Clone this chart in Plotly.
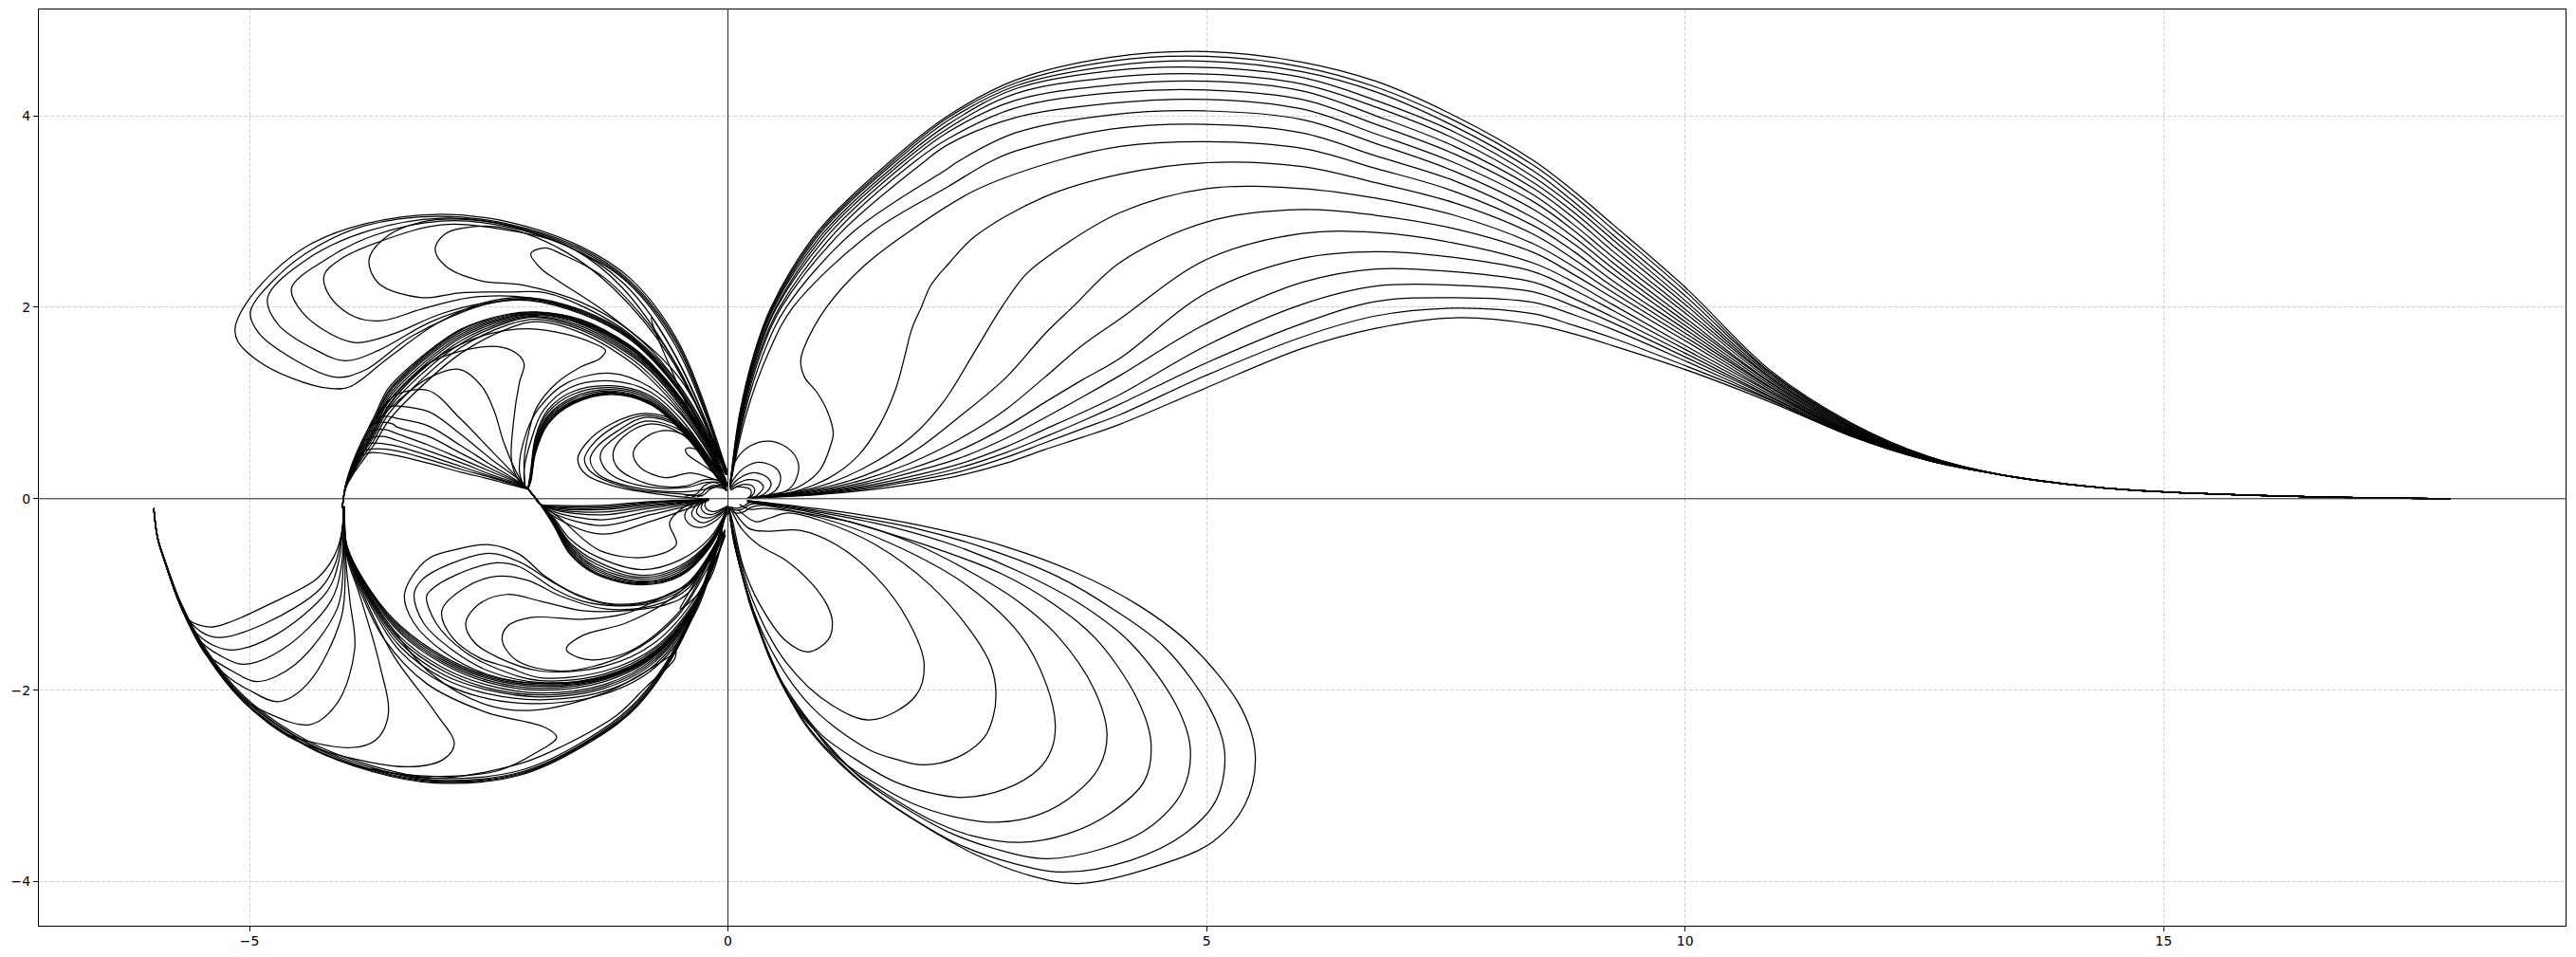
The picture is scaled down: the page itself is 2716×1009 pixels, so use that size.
import plotly.graph_objects as go

x_range = [-7.2, 19.2]
y_range = [-4.46, 5.11]
x_ticks = [-5, 0, 5, 10, 15]
y_ticks = [-4, -2, 0, 2, 4]

# ---------- upper right fan ----------
fan_low_y = [0.88, 1.54, 2.0, 2.78, 3.52]
fan_low_x = [
    [.12, .28, .45, .93, 1.69], [.125, .285, .46, .95, 1.72], [.13, .29, .47, .97, 1.75],
    [.135, .30, .48, 1.0, 1.79], [.14, .31, .50, 1.03, 1.83], [.145, .32, .51, 1.07, 1.88],
    [.15, .335, .54, 1.12, 1.95], [.16, .35, .56, 1.18, 2.05], [.17, .38, .61, 1.3, 2.4],
    [.19, .43, .68, 1.5, 2.74],
]
fan_x23 = [2.3, 2.3, 2.3, 2.3, 2.3, 2.3, 2.3, 2.3, 2.3, 2.3]
fan_y23 = [4.0, 3.98, 3.95, 3.91, 3.87, 3.83, 3.76, 3.7, 3.45, 3.26]
fan_top_x = [3, 4, 5, 6, 6.77, 7.59, 8.42, 8.84, 9.24, 10, 10.89, 11.72, 12.54]
fan_top_y = [
    [4.37, 4.61, 4.67, 4.56, 4.36, 4.0, 3.53, 3.21, 2.87, 2.21, 1.34, .8, .44],
    [4.34, 4.57, 4.62, 4.51, 4.30, 3.95, 3.48, 3.16, 2.82, 2.17, 1.32, .79, .44],
    [4.31, 4.52, 4.57, 4.46, 4.25, 3.89, 3.42, 3.10, 2.76, 2.12, 1.31, .78, .44],
    [4.28, 4.47, 4.505, 4.40, 4.16, 3.83, 3.36, 3.05, 2.71, 2.07, 1.29, .77, .43],
    [4.23, 4.4, 4.435, 4.33, 4.09, 3.76, 3.30, 2.99, 2.65, 2.03, 1.27, .76, .43],
    [4.16, 4.32, 4.36, 4.26, 4.0, 3.68, 3.24, 2.93, 2.59, 1.98, 1.26, .75, .43],
    [4.08, 4.24, 4.27, 4.17, 3.91, 3.60, 3.17, 2.86, 2.53, 1.94, 1.24, .74, .42],
    [3.98, 4.13, 4.17, 4.07, 3.81, 3.51, 3.10, 2.80, 2.47, 1.89, 1.22, .73, .42],
    [3.82, 4.01, 4.05, 3.96, 3.71, 3.42, 3.02, 2.73, 2.41, 1.85, 1.21, .72, .42],
    [3.63, 3.86, 3.91, 3.82, 3.58, 3.32, 2.93, 2.66, 2.35, 1.81, 1.19, .71, .42],
]
fan_mid_left = [
    [(.2, .01), (.43, .04), (.73, .12), (.96, .3), (1.07, .55), (1.10, .68), (1.04, .91), (.93, 1.11), (.80, 1.27), (.76, 1.44), (.80, 1.59), (1.03, 2.0), (1.42, 2.43), (1.92, 2.81), (2.58, 3.22), (3.4, 3.52)],
    [(.25, .01), (.6, .05), (1.06, .22), (1.36, .45), (1.59, .78), (1.75, 1.14), (1.85, 1.5), (1.92, 1.77), (2.02, 2.0), (2.12, 2.23), (2.31, 2.46), (2.58, 2.74), (3.3, 3.15)],
    [(.25, .01), (.43, .03), (.93, .12), (1.42, .32), (1.92, .65), (2.25, 1.01), (2.58, 1.54), (2.86, 2.0), (3.1, 2.33), (3.3, 2.5)],
    [(.25, .01), (.93, .1), (1.42, .24), (1.92, .48), (2.41, .85), (2.91, 1.27), (3.3, 1.71), (3.6, 2.0)],
    [(.25, .01), (.9, .08), (1.42, .2), (1.9, .37), (2.41, .62), (2.9, .93), (3.3, 1.26), (3.7, 1.6)],
    [(.25, .01), (.9, .07), (1.42, .17), (1.9, .31), (2.41, .5), (2.9, .75), (3.3, 1.0), (3.7, 1.24)],
    [(.25, .01), (.9, .06), (1.42, .15), (1.9, .27), (2.41, .42), (2.9, .63), (3.3, .84), (3.7, 1.06)],
    [(.25, .01), (.9, .055), (1.42, .13), (1.9, .23), (2.41, .36), (2.9, .54), (3.3, .72), (3.7, .9)],
    [(.25, .01), (.9, .05), (1.42, .115), (1.9, .2), (2.41, .32), (2.9, .48), (3.3, .64), (3.7, .81)],
    [(.25, .01), (.9, .045), (1.42, .1), (1.9, .18), (2.41, .28), (2.9, .43), (3.3, .58), (3.7, .73)],
    [(.25, .01), (.9, .04), (1.42, .085), (1.9, .15), (2.41, .24), (2.9, .37), (3.3, .51), (3.7, .64)],
]
fan_mid_x = [4.1, 5, 6, 6.77, 7.59, 8.42, 8.84, 9.24, 10, 10.89, 11.72, 12.54]
fan_mid_y = [
    [3.68, 3.73, 3.66, 3.45, 3.21, 2.85, 2.58, 2.28, 1.77, 1.17, .70, .41],
    [3.39, 3.51, 3.47, 3.30, 3.09, 2.76, 2.50, 2.22, 1.73, 1.16, .70, .41],
    [2.99, 3.24, 3.24, 3.14, 2.96, 2.66, 2.42, 2.16, 1.69, 1.14, .69, .41],
    [2.47, 2.89, 3.02, 2.96, 2.82, 2.57, 2.34, 2.10, 1.65, 1.12, .69, .41],
    [1.88, 2.5, 2.77, 2.78, 2.67, 2.46, 2.26, 2.03, 1.60, 1.11, .68, .41],
    [1.47, 2.15, 2.51, 2.58, 2.52, 2.37, 2.18, 1.97, 1.56, 1.09, .68, .40],
    [1.29, 1.83, 2.26, 2.40, 2.37, 2.26, 2.09, 1.90, 1.52, 1.07, .67, .40],
    [1.09, 1.6, 2.03, 2.22, 2.23, 2.16, 2.01, 1.84, 1.48, 1.06, .67, .40],
    [.99, 1.42, 1.83, 2.06, 2.10, 2.05, 1.92, 1.77, 1.44, 1.04, .66, .40],
    [.88, 1.29, 1.69, 1.91, 1.99, 1.93, 1.81, 1.68, 1.39, 1.03, .66, .40],
    [.78, 1.16, 1.57, 1.78, 1.89, 1.82, 1.72, 1.60, 1.35, 1.01, .66, .40],
]
fan_tail = [(13.3, .25), (14.19, .13), (15, .07), (16, .035), (17, .012), (18, 0.0)]

small_upper_right = [
    [(.02, .15), (.07, .38), (.23, .55), (.45, .6), (.66, .5), (.74, .33), (.66, .12), (.5, .04), (.3, .01)],
    [(.02, .13), (.07, .22), (.18, .33), (.33, .38), (.5, .32), (.55, .22), (.5, .09), (.37, .02)],
    [(.02, .11), (.1, .2), (.25, .27), (.4, .23), (.45, .15), (.38, .05), (.3, .015)],
    [(.02, .1), (.1, .16), (.22, .2), (.34, .17), (.37, .12), (.31, .04), (.26, .01)],
    [(.03, .09), (.1, .13), (.17, .15), (.26, .13), (.28, .085), (.25, .03), (.22, .01)],
    [(.03, .09), (.1, .125), (.16, .12), (.23, .1), (.245, .06), (.22, .015)],
]

# ---------- lower right petals ----------
petals = [
    [(.01, -.08), (.14, -.31), (.33, -.49), (.6, -.64), (.86, -.87), (1.03, -1.1), (1.09, -1.28), (1.05, -1.47), (.84, -1.6), (.6, -1.48), (.33, -1.1), (.16, -.71), (.05, -.24), (.01, -.08)],
    [(.03, -.08), (.22, -.31), (.41, -.34), (.75, -.33), (1.13, -.48), (1.54, -.81), (1.88, -1.27), (2.05, -1.73), (1.96, -2.06), (1.5, -2.31), (1.09, -2.16), (.6, -1.7), (.25, -1.04), (.08, -.44), (.01, -.1)],
    [(.1, -.11), (.29, -.24), (.44, -.2), (.63, -.15), (.97, -.23), (1.54, -.48), (2.11, -.9), (2.57, -1.43), (2.75, -1.75), (2.8, -2.03), (2.77, -2.28), (2.68, -2.49), (2.4, -2.7), (2.04, -2.78), (1.75, -2.72), (1.47, -2.62), (.86, -2.16), (.41, -1.5), (.14, -.77), (.01, -.1)],
    [(.12, -.06), (.22, -.11), (.4, -.1), (.97, -.2), (1.73, -.48), (2.49, -.9), (3.06, -1.43), (3.33, -1.95), (3.42, -2.36), (3.38, -2.62), (3.25, -2.82), (2.9, -3.03), (2.45, -3.12), (2.1, -3.07), (1.73, -2.95), (1.33, -2.72), (.97, -2.46), (.7, -2.12), (.48, -1.76), (.3, -1.3), (.16, -.84), (.06, -.45), (.01, -.1)],
    [(.2, -.03), (.4, -.07), (.85, -.16), (1.35, -.26), (1.95, -.47), (2.49, -.74), (3.0, -1.05), (3.44, -1.43), (3.83, -2.0), (3.96, -2.46), (3.88, -2.8), (3.63, -3.08), (3.25, -3.3), (2.79, -3.38), (2.35, -3.32), (1.92, -3.18), (1.5, -2.95), (1.13, -2.69), (.82, -2.3), (.56, -1.93), (.34, -1.4), (.18, -.9), (.07, -.48), (.01, -.1)],
    [(.2, -.025), (.4, -.06), (.95, -.16), (1.54, -.32), (2.2, -.53), (2.87, -.79), (3.4, -1.1), (3.85, -1.47), (4.28, -2.1), (4.42, -2.55), (4.35, -2.95), (4.0, -3.28), (3.55, -3.5), (3.06, -3.59), (2.55, -3.52), (2.11, -3.35), (1.68, -3.1), (1.28, -2.82), (.92, -2.43), (.63, -2.06), (.38, -1.5), (.2, -.97), (.08, -.52), (.01, -.1)],
    [(.2, -.02), (.4, -.05), (1.0, -.15), (1.73, -.3), (2.4, -.5), (3.06, -.77), (3.68, -1.1), (4.2, -1.5), (4.68, -2.15), (4.83, -2.6), (4.75, -3.05), (4.38, -3.45), (3.9, -3.66), (3.32, -3.76), (2.8, -3.66), (2.3, -3.48), (1.8, -3.2), (1.39, -2.92), (1.0, -2.52), (.69, -2.16), (.42, -1.6), (.22, -1.04), (.09, -.55), (.01, -.1)],
    [(.2, -.02), (.4, -.045), (1.1, -.15), (1.92, -.3), (2.7, -.52), (3.44, -.81), (4.05, -1.17), (4.57, -1.56), (5.04, -2.2), (5.19, -2.65), (5.1, -3.15), (4.76, -3.51), (4.2, -3.78), (3.51, -3.9), (2.95, -3.8), (2.41, -3.61), (1.9, -3.32), (1.47, -3.02), (1.05, -2.63), (.75, -2.26), (.45, -1.7), (.24, -1.1), (.1, -.58), (.01, -.1)],
    [(.2, -.02), (.4, -.04), (1.2, -.14), (2.11, -.3), (2.9, -.5), (3.63, -.77), (4.3, -1.12), (4.84, -1.53), (5.37, -2.2), (5.51, -2.69), (5.4, -3.2), (5.07, -3.58), (4.5, -3.83), (3.66, -4.02), (3.1, -3.92), (2.57, -3.71), (2.05, -3.42), (1.54, -3.08), (1.1, -2.7), (.78, -2.32), (.5, -1.78), (.25, -1.17), (.1, -.6), (.01, -.1)],
]
small_lower_right = [
    [(.02, -.11), (.08, -.15), (.16, -.14), (.24, -.09), (.34, -.07), (.5, -.07)],
    [(.03, -.1), (.08, -.12), (.15, -.11), (.23, -.06), (.35, -.05)],
    [(.03, -.09), (.09, -.1), (.16, -.08), (.22, -.04), (.3, -.03)],
]

# ---------- outer upper left loops ----------
outer_loops = [
    [(-.01, .28), (-.52, 1.64), (-1.02, 2.3), (-1.53, 2.63), (-2.29, 2.89), (-3.04, 2.97), (-3.8, 2.87), (-4.36, 2.66), (-4.76, 2.36), (-5.06, 2.0), (-5.15, 1.78), (-5.12, 1.64), (-4.91, 1.44), (-4.56, 1.26), (-4.15, 1.15), (-3.95, 1.17), (-3.55, 1.47), (-3.04, 1.83), (-2.54, 2.05), (-2.08, 2.1), (-1.53, 1.97), (-1.02, 1.7), (-.52, 1.17), (-.01, .25)],
    [(-.02, .28), (-.53, 1.63), (-1.03, 2.28), (-1.55, 2.62), (-2.3, 2.87), (-3.04, 2.95), (-3.8, 2.85), (-4.3, 2.63), (-4.7, 2.33), (-4.99, 1.95), (-4.91, 1.74), (-4.56, 1.47), (-4.1, 1.27), (-3.8, 1.34), (-3.3, 1.7), (-2.54, 2.03), (-2.08, 2.09), (-1.53, 1.95), (-1.02, 1.68), (-.52, 1.15), (-.01, .25)],
    [(-.02, .28), (-.54, 1.62), (-1.04, 2.27), (-1.57, 2.61), (-2.3, 2.86), (-3.0, 2.93), (-3.75, 2.8), (-4.4, 2.5), (-4.81, 2.1), (-4.7, 1.82), (-4.3, 1.55), (-4.0, 1.44), (-3.65, 1.55), (-3.1, 1.85), (-2.54, 2.03), (-2.08, 2.08), (-1.53, 1.94), (-1.02, 1.67), (-.52, 1.14), (-.01, .25)],
    [(-.02, .28), (-.55, 1.6), (-1.05, 2.26), (-1.6, 2.6), (-2.3, 2.84), (-3.0, 2.9), (-3.7, 2.75), (-4.2, 2.5), (-4.56, 2.2), (-4.45, 1.95), (-4.15, 1.72), (-3.88, 1.63), (-3.5, 1.72), (-3.0, 1.93), (-2.5, 2.05), (-2.08, 2.07), (-1.53, 1.93), (-1.02, 1.66), (-.52, 1.13), (-.01, .25)],
    [(-.02, .28), (-.58, 1.55), (-1.08, 2.24), (-1.7, 2.65), (-2.4, 2.82), (-3.0, 2.86), (-3.6, 2.7), (-4.05, 2.5), (-4.22, 2.33), (-4.15, 2.1), (-3.9, 1.9), (-3.62, 1.86), (-3.2, 1.98), (-2.7, 2.1), (-2.08, 2.1), (-1.53, 1.96), (-1.02, 1.69), (-.52, 1.15), (-.01, .25)],
    [(-.02, .3), (-.6, 1.5), (-1.1, 2.2), (-1.6, 2.6), (-2.29, 2.85), (-2.79, 2.92), (-3.2, 2.89), (-3.55, 2.75), (-3.75, 2.5), (-3.65, 2.25), (-3.2, 2.1), (-2.8, 2.15), (-2.29, 2.16), (-1.9, 2.15), (-1.5, 2.0), (-1.0, 1.7), (-.5, 1.17), (-.01, .27)],
    [(-.02, .3), (-.62, 1.5), (-1.2, 2.2), (-1.7, 2.58), (-2.29, 2.82), (-2.67, 2.84), (-2.95, 2.77), (-3.06, 2.61), (-2.95, 2.43), (-2.6, 2.28), (-2.14, 2.23), (-1.53, 2.05), (-1.02, 1.75), (-.5, 1.25), (-.01, .3)],
    [(-.03, .28), (-.6, 1.5), (-1.28, 2.3), (-1.75, 2.56), (-1.91, 2.62), (-2.06, 2.56), (-1.95, 2.4), (-1.78, 2.28), (-1.28, 1.95), (-.8, 1.55), (-.4, 1.02), (-.02, .3)],
    [(-.02, .28), (-.4, 1.2), (-.7, 1.75), (-.8, 1.89), (-.78, 1.8), (-.55, 1.25), (-.3, .7), (-.02, .25)],
]

# ---------- radius-2 band, upper ----------
band_x = [-.01, -.16, -.49, -.82, -1.02, -1.53, -2.0, -2.29, -2.79, -3.3, -3.55, -3.7, -3.85, -3.95, -4.0, -4.03]
band_y = [
    [.15, .52, 1.05, 1.43, 1.6, 1.87, 1.95, 1.93, 1.77, 1.4, 1.15, .85, .55, .3, .12, -.1],
    [.15, .51, 1.04, 1.42, 1.59, 1.86, 1.945, 1.92, 1.76, 1.38, 1.12, .82, .53, .29, .12, -.1],
    [.15, .5, 1.03, 1.41, 1.58, 1.85, 1.94, 1.91, 1.74, 1.36, 1.1, .8, .51, .28, .12, -.1],
    [.15, .49, 1.02, 1.4, 1.57, 1.84, 1.93, 1.9, 1.72, 1.34, 1.07, .77, .49, .27, .11, -.1],
    [.14, .48, 1.01, 1.39, 1.56, 1.83, 1.925, 1.89, 1.7, 1.31, 1.04, .74, .47, .26, .11, -.1],
    [.14, .47, 1.0, 1.38, 1.54, 1.82, 1.915, 1.875, 1.68, 1.28, 1.01, .71, .45, .25, .11, -.1],
    [.14, .46, .98, 1.36, 1.52, 1.8, 1.905, 1.86, 1.65, 1.25, .97, .68, .43, .24, .1, -.1],
    [.13, .45, .96, 1.34, 1.5, 1.78, 1.895, 1.845, 1.62, 1.21, .93, .65, .41, .23, .1, -.1],
    [.13, .43, .93, 1.3, 1.47, 1.76, 1.875, 1.82, 1.58, 1.15, .88, .61, .38, .22, .1, -.1],
    [.13, .41, .9, 1.26, 1.43, 1.73, 1.85, 1.78, 1.52, 1.08, .81, .56, .35, .2, .09, -.1],
]

# ---------- fan towards the pinch ----------
pinch_x = [-3.46, -3.13, -2.8, -2.47, -2.21]
pinch_y = [
    [.45, .37, .28, .2, .13], [.5, .41, .31, .22, .14], [.55, .45, .34, .23, .15],
    [.61, .5, .38, .25, .16], [.68, .56, .42, .28, .17], [.75, .65, .48, .31, .18],
    [.84, .76, .56, .35, .19], [.97, .91, .68, .41, .22], [1.09, 1.13, .84, .5, .23],
]
pinch_start = [
    [(-3.93, .32), (-3.86, .43), (-3.74, .48)], [(-3.88, .42), (-3.8, .5), (-3.7, .52)],
    [(-3.84, .52), (-3.77, .57), (-3.65, .58)], [(-3.8, .6), (-3.72, .64), (-3.6, .65)],
    [(-3.76, .7), (-3.68, .72), (-3.57, .72)], [(-3.72, .78), (-3.62, .8), (-3.5, .78)],
    [(-3.68, .85), (-3.56, .86)], [(-3.62, .95), (-3.48, .97)], [(-3.65, .9), (-3.55, 1.02)],
]
peak_curves = [
    [(-3.73, .75), (-3.46, 1.01), (-3.13, 1.26), (-2.8, 1.35), (-2.57, 1.17), (-2.44, .91), (-2.34, .58), (-2.18, .22), (-2.09, .1)],
    [(-3.75, .75), (-3.46, 1.11), (-3.13, 1.41), (-2.8, 1.54), (-2.41, 1.59), (-2.21, 1.52), (-2.13, 1.41), (-2.18, 1.21), (-2.24, .81), (-2.26, .38), (-2.18, .18), (-2.09, .1)],
    [(-3.95, .2), (-3.8, .5), (-3.65, .8), (-3.4, 1.15), (-3.0, 1.5), (-2.5, 1.72), (-2.08, 1.775), (-1.7, 1.72), (-1.4, 1.62), (-1.28, 1.55), (-1.33, 1.47), (-1.55, 1.37), (-1.8, 1.2), (-2.0, .95), (-2.08, .7), (-2.13, .4), (-2.12, .15)],
]

# ---------- radius-1 band, upper ----------
arc1_x = [-.015, -.16, -.49, -.82, -1.22, -1.62, -1.88, -2.01, -2.06, -2.09]
arc1_y = [
    [.08, .28, .71, .99, 1.09, .99, .78, .48, .18, .1],
    [.08, .29, .72, 1.0, 1.1, 1.0, .79, .5, .2, .1],
    [.08, .29, .72, 1.0, 1.105, 1.01, .81, .52, .21, .1],
    [.08, .3, .73, 1.01, 1.115, 1.02, .83, .54, .22, .1],
    [.09, .3, .74, 1.02, 1.125, 1.04, .85, .56, .23, .1],
    [.09, .31, .75, 1.04, 1.14, 1.06, .87, .59, .25, .1],
    [.09, .32, .77, 1.06, 1.16, 1.09, .9, .62, .27, .1],
    [.1, .34, .79, 1.08, 1.18, 1.12, .93, .65, .3, .1],
]
arc1_extra = [
    [(-.015, .11), (-.16, .37), (-.49, .83), (-.82, 1.12), (-1.22, 1.23), (-1.65, 1.16), (-1.93, .92), (-2.06, .6), (-2.13, .3), (-2.12, .12)],
    [(-.015, .12), (-.16, .41), (-.49, .88), (-.82, 1.17), (-1.22, 1.31), (-1.68, 1.21), (-1.98, .94), (-2.11, .68), (-2.18, .3), (-2.13, .12)],
]

# ---------- inner upper left lobes ----------
inner_lobes = [
    [(-.02, .18), (-.16, .38), (-.49, .78), (-.87, .89), (-1.22, .78), (-1.48, .58), (-1.57, .41), (-1.48, .25), (-1.15, .12), (-.66, .04), (-.26, .0)],
    [(-.02, .18), (-.16, .37), (-.49, .76), (-.87, .87), (-1.19, .75), (-1.43, .55), (-1.5, .41), (-1.42, .27), (-.99, .1), (-.49, .05), (-.26, .03)],
    [(-.02, .18), (-.16, .36), (-.49, .74), (-.87, .85), (-1.15, .71), (-1.38, .53), (-1.44, .41), (-1.35, .25), (-.99, .12), (-.49, .07), (-.28, .09), (-.16, .12), (-.03, .16)],
    [(-.02, .18), (-.16, .35), (-.49, .71), (-.87, .81), (-1.15, .66), (-1.32, .5), (-1.33, .4), (-1.22, .25), (-.82, .12), (-.42, .12), (-.23, .17), (-.03, .17)],
    [(-.02, .18), (-.16, .34), (-.49, .68), (-.82, .78), (-1.09, .65), (-1.2, .48), (-1.15, .32), (-.82, .15), (-.46, .13), (-.23, .2), (-.03, .18)],
    [(-.02, .2), (-.2, .42), (-.45, .66), (-.69, .71), (-.9, .61), (-.99, .48), (-.92, .33), (-.66, .22), (-.39, .27), (-.13, .2), (-.02, .17)],
    [(-.03, .18), (-.23, .33), (-.43, .47), (-.44, .52), (-.38, .53), (-.2, .43), (-.03, .22)],
]
small_upper_left = [
    [(-.45, .03), (-.33, .05), (-.25, .135), (-.15, .17), (-.03, .12)],
    [(-.38, .02), (-.28, .05), (-.22, .11), (-.14, .14), (-.03, .11)],
    [(-.32, .02), (-.24, .05), (-.2, .09), (-.13, .12), (-.03, .1)],
]

# ---------- below the pinch ----------
pinch_link = [(-2.09, .1), (-2.03, .03), (-1.96, -.06)]
near_axis_x = [-1.81, -1.32, -.82, -.33, -.2]
near_axis_y = [
    [-.07, -.07, -.03, -.01, 0.0], [-.08, -.085, -.04, -.012, 0.0], [-.09, -.10, -.05, -.015, 0.0],
    [-.10, -.115, -.065, -.02, 0.0], [-.11, -.14, -.08, -.025, 0.0], [-.12, -.17, -.1, -.03, -.005],
    [-.14, -.22, -.13, -.04, -.01], [-.16, -.28, -.17, -.05, -.01], [-.19, -.37, -.24, -.07, -.015],
]
under_x = [-1.96, -1.82, -1.65, -1.38, -.9, -.5, -.19, -.01]
under_y = [
    [-.06, -.28, -.58, -.79, -.9, -.81, -.51, -.15], [-.06, -.27, -.57, -.78, -.89, -.8, -.5, -.15],
    [-.06, -.27, -.55, -.77, -.88, -.79, -.49, -.14], [-.06, -.26, -.54, -.75, -.87, -.78, -.48, -.14],
    [-.06, -.25, -.52, -.73, -.86, -.76, -.47, -.14], [-.06, -.24, -.5, -.71, -.84, -.74, -.46, -.13],
    [-.06, -.23, -.48, -.68, -.82, -.72, -.45, -.13], [-.06, -.22, -.46, -.65, -.8, -.7, -.44, -.13],
    [-.06, -.2, -.42, -.6, -.74, -.64, -.41, -.11],
]
under_wobble = [(-1.96, -.06), (-1.76, -.2), (-1.34, -.54), (-.85, -.61), (-.54, -.48), (-.61, -.25), (-.45, -.08), (-.28, -.01)]
small_lower_left = [
    [(-.33, -.03), (-.45, -.16), (-.41, -.26), (-.28, -.3), (-.13, -.23), (-.01, -.11)],
    [(-.3, -.03), (-.38, -.15), (-.35, -.21), (-.25, -.25), (-.12, -.19), (-.01, -.1)],
    [(-.27, -.03), (-.33, -.13), (-.3, -.18), (-.2, -.2), (-.1, -.16), (-.01, -.1)],
    [(-.25, -.02), (-.28, -.1), (-.24, -.15), (-.17, -.165), (-.08, -.13), (-.01, -.09)],
    [(-.23, -.02), (-.24, -.08), (-.2, -.125), (-.14, -.135), (-.07, -.11), (-.01, -.08)],
]

# ---------- lower left inner loops ----------
lower_loops = [
    [(-.06, -.34), (-.41, -.87), (-.76, -1.05), (-1.2, -1.1), (-1.6, -.99), (-1.91, -.81), (-2.18, -.58), (-2.49, -.48), (-2.84, -.53), (-3.15, -.64), (-3.38, -1.0), (-3.28, -1.3), (-2.97, -1.6), (-2.53, -1.83), (-1.96, -1.93), (-1.29, -1.86), (-.76, -1.6), (-.32, -1.07), (-.03, -.38)],
    [(-.06, -.34), (-.41, -.88), (-.76, -1.06), (-1.2, -1.11), (-1.55, -1.02), (-1.85, -.86), (-2.18, -.66), (-2.49, -.57), (-2.9, -.68), (-3.2, -.85), (-3.28, -1.0), (-3.18, -1.3), (-2.88, -1.58), (-2.5, -1.8), (-1.96, -1.92), (-1.29, -1.85), (-.76, -1.59), (-.32, -1.06), (-.03, -.38)],
    [(-.06, -.34), (-.41, -.9), (-.76, -1.08), (-1.16, -1.12), (-1.52, -1.07), (-1.82, -.94), (-2.18, -.71), (-2.42, -.67), (-2.85, -.8), (-3.1, -.95), (-3.15, -1.02), (-3.05, -1.3), (-2.75, -1.6), (-2.4, -1.78), (-1.96, -1.9), (-1.29, -1.83), (-.76, -1.57), (-.32, -1.05), (-.03, -.38)],
    [(-.06, -.34), (-.41, -.93), (-.76, -1.11), (-1.29, -1.15), (-1.74, -1.02), (-2.1, -.85), (-2.42, -.81), (-2.75, -.93), (-2.99, -1.17), (-2.88, -1.45), (-2.6, -1.66), (-2.3, -1.76), (-1.96, -1.87), (-1.29, -1.8), (-.76, -1.55), (-.32, -1.03), (-.03, -.38)],
    [(-.06, -.36), (-.41, -.98), (-.63, -1.1), (-1.07, -1.17), (-1.52, -1.17), (-1.96, -1.07), (-2.31, -1.0), (-2.6, -1.1), (-2.74, -1.3), (-2.65, -1.5), (-2.4, -1.66), (-1.96, -1.8), (-1.29, -1.75), (-.76, -1.5), (-.32, -1.0), (-.03, -.38)],
    [(-.06, -.36), (-.35, -.85), (-.63, -1.0), (-1.07, -1.2), (-1.52, -1.26), (-2.05, -1.24), (-2.3, -1.33), (-2.36, -1.47), (-2.22, -1.68), (-1.74, -1.8), (-1.07, -1.63), (-.54, -1.24), (-.2, -.7), (-.03, -.36)],
    [(-.05, -.36), (-.23, -.71), (-.63, -1.07), (-1.07, -1.3), (-1.52, -1.43), (-1.69, -1.57), (-1.56, -1.66), (-1.34, -1.68), (-.98, -1.57), (-.5, -1.17), (-.2, -.66), (-.03, -.34)],
    [(-.04, -.34), (-.19, -.84), (-.42, -1.1), (-.5, -1.15), (-.46, -1.07), (-.3, -.8), (-.15, -.55), (-.03, -.32)],
]

# ---------- radius-2 band, lower ----------
lower_band_x = [-.01, -.32, -.76, -1.29, -1.96, -2.5, -2.97, -3.42, -3.72, -3.98, -4.02]
lower_band_y = [
    [-.08, -1.05, -1.6, -1.86, -1.93, -1.85, -1.65, -1.33, -.98, -.5, -.1],
    [-.08, -1.05, -1.61, -1.87, -1.945, -1.865, -1.67, -1.35, -.99, -.5, -.1],
    [-.08, -1.06, -1.62, -1.88, -1.96, -1.88, -1.69, -1.37, -1.0, -.5, -.1],
    [-.08, -1.06, -1.63, -1.89, -1.98, -1.9, -1.71, -1.39, -1.01, -.51, -.1],
    [-.08, -1.07, -1.64, -1.91, -2.0, -1.92, -1.73, -1.41, -1.03, -.51, -.1],
    [-.08, -1.08, -1.66, -1.94, -2.03, -1.95, -1.77, -1.45, -1.05, -.52, -.1],
    [-.08, -1.09, -1.68, -1.96, -2.05, -1.98, -1.8, -1.48, -1.07, -.53, -.1],
    [-.08, -1.1, -1.7, -1.98, -2.07, -2.0, -1.84, -1.51, -1.09, -.54, -.1],
    [-.08, -1.12, -1.73, -2.01, -2.1, -2.04, -1.88, -1.55, -1.11, -.55, -.1],
    [-.08, -1.15, -1.76, -2.04, -2.14, -2.09, -1.93, -1.6, -1.14, -.56, -.1],
]
lower_tip_line = [(-.54, -1.6), (-.85, -1.8), (-1.29, -2.03), (-2.04, -2.21), (-2.53, -2.15), (-3.1, -1.83), (-3.55, -1.3), (-3.85, -.85), (-3.98, -.55), (-4.02, -.1)]
lower_tip_back = [(-.54, -1.6), (-.56, -1.68), (-.85, -1.96), (-1.16, -2.26), (-1.74, -2.59), (-2.18, -2.77), (-3.06, -2.92), (-3.72, -2.82)]

# ---------- big lower envelope ----------
env_x = [-6.0, -5.96, -5.89, -5.71, -5.45, -5.05, -4.39, -3.72, -3.06, -2.18, -1.52, -.94, -.41, -.01]
env_y = [
    [-.1, -.41, -.64, -1.14, -1.63, -2.13, -2.59, -2.85, -2.97, -2.89, -2.59, -2.16, -1.33, -.08],
    [-.1, -.41, -.64, -1.13, -1.62, -2.12, -2.58, -2.84, -2.96, -2.88, -2.58, -2.15, -1.32, -.08],
    [-.1, -.41, -.63, -1.12, -1.61, -2.1, -2.56, -2.83, -2.95, -2.87, -2.57, -2.14, -1.31, -.08],
    [-.1, -.41, -.63, -1.11, -1.6, -2.09, -2.55, -2.81, -2.94, -2.86, -2.56, -2.12, -1.3, -.08],
    [-.1, -.4, -.62, -1.1, -1.58, -2.07, -2.53, -2.79, -2.92, -2.84, -2.54, -2.1, -1.28, -.08],
]
env_branches = [
    [(-5.71, -1.13), (-5.63, -1.27), (-5.4, -1.34), (-5.18, -1.28), (-4.83, -1.12), (-4.3, -.84), (-4.12, -.61), (-4.04, -.38), (-4.01, -.08)],
    [(-5.65, -1.25), (-5.49, -1.4), (-5.32, -1.45), (-4.83, -1.3), (-4.26, -.94), (-4.1, -.67), (-4.04, -.38), (-4.01, -.08)],
    [(-5.6, -1.35), (-5.4, -1.52), (-5.18, -1.58), (-4.74, -1.43), (-4.19, -.97), (-4.07, -.67), (-4.03, -.35), (-4.01, -.08)],
    [(-5.5, -1.5), (-5.32, -1.63), (-5.07, -1.73), (-4.65, -1.57), (-4.15, -1.07), (-4.04, -.71), (-4.02, -.35), (-4.01, -.08)],
    [(-5.38, -1.68), (-5.18, -1.8), (-4.92, -1.91), (-4.52, -1.73), (-4.08, -1.14), (-4.02, -.71), (-4.01, -.35), (-4.01, -.08)],
    [(-5.2, -1.88), (-5.0, -2.0), (-4.7, -2.12), (-4.39, -1.93), (-4.04, -1.24), (-4.0, -.71), (-4.01, -.3), (-4.01, -.08)],
    [(-5.05, -2.1), (-4.83, -2.23), (-4.37, -2.36), (-4.08, -2.13), (-3.9, -1.57), (-3.95, -1.07), (-3.99, -.67), (-4.01, -.08)],
    [(-4.85, -2.3), (-4.61, -2.46), (-3.95, -2.6), (-3.68, -2.52), (-3.55, -2.26), (-3.64, -1.73), (-3.86, -.97), (-3.98, -.61), (-4.01, -.08)],
    [(-4.6, -2.48), (-4.17, -2.65), (-3.33, -2.8), (-2.97, -2.72), (-2.86, -2.56), (-3.06, -2.23), (-3.5, -1.63), (-3.81, -1.0), (-3.97, -.61), (-4.01, -.08)],
    [(-4.2, -2.68), (-3.72, -2.83), (-3.06, -2.9), (-2.4, -2.84), (-2.0, -2.65), (-1.79, -2.49), (-1.91, -2.39), (-2.53, -2.23), (-3.15, -1.93), (-3.59, -1.47), (-3.84, -.97), (-3.97, -.6), (-4.01, -.08)],
]

# ---------- assemble ----------
curves = []
for lx, xm, ym, ty in zip(fan_low_x, fan_x23, fan_y23, fan_top_y):
    low = sorted(list(zip(lx, fan_low_y)) + [(xm, ym)])
    curves.append([(0.02, .12)] + low + list(zip(fan_top_x, ty)) + fan_tail)
for left, my in zip(fan_mid_left, fan_mid_y):
    curves.append(left + list(zip(fan_mid_x, my)) + fan_tail)
curves += small_upper_right + petals + small_lower_right + outer_loops
for y in band_y:
    curves.append(list(zip(band_x, y)))
for st, y in zip(pinch_start, pinch_y):
    curves.append(st + list(zip(pinch_x, y)) + [(-2.09, .1)])
curves += peak_curves
for y in arc1_y:
    curves.append(list(zip(arc1_x, y)))
curves += arc1_extra + inner_lobes + small_upper_left
for y in near_axis_y:
    curves.append(pinch_link + list(zip(near_axis_x, y)))
for y in under_y:
    curves.append(pinch_link[:2] + list(zip(under_x, y)))
curves.append(under_wobble)
curves += small_lower_left + lower_loops
for y in lower_band_y:
    curves.append(list(zip(lower_band_x, y)))
curves += [lower_tip_line, lower_tip_back]
for y in env_y:
    curves.append(list(zip(env_x, y)))
for br in env_branches:
    first = [p for p in zip(env_x, env_y[0]) if p[0] < br[0][0]]
    curves.append(first + br)

fig = go.Figure()
for c in curves:
    fig.add_trace(go.Scatter(
        x=[p[0] for p in c], y=[p[1] for p in c], mode="lines",
        line=dict(color="black", width=1.25, shape="spline", smoothing=1.0),
        hoverinfo="skip", showlegend=False,
    ))

axis_common = dict(
    showgrid=True, gridcolor="#d2d2d2", griddash="4px,2px", gridwidth=1,
    zeroline=False, showline=True, linecolor="black", linewidth=1, mirror=True,
    ticks="outside", ticklen=5, tickwidth=1, tickcolor="black",
    tickfont=dict(family="DejaVu Sans", size=14, color="black"),
)
fig.update_xaxes(range=x_range, tickvals=x_ticks, ticklabelstandoff=-2, **axis_common)
fig.update_yaxes(range=y_range, tickvals=y_ticks, **axis_common)
fig.update_layout(
    width=2716, height=1009, autosize=False,
    margin=dict(l=40.5, r=11, t=9, b=30, pad=0),
    plot_bgcolor="white", paper_bgcolor="white", showlegend=False,
    shapes=[
        dict(type="line", xref="paper", x0=0, x1=1, yref="y", y0=0, y1=0, line=dict(color="#222222", width=1)),
        dict(type="line", yref="paper", y0=0, y1=1, xref="x", x0=0, x1=0, line=dict(color="#222222", width=1)),
    ],
)
fig.write_html("out.html", config={"displayModeBar": False},
               post_script="document.body.style.margin='0';document.documentElement.style.overflow='hidden';")
